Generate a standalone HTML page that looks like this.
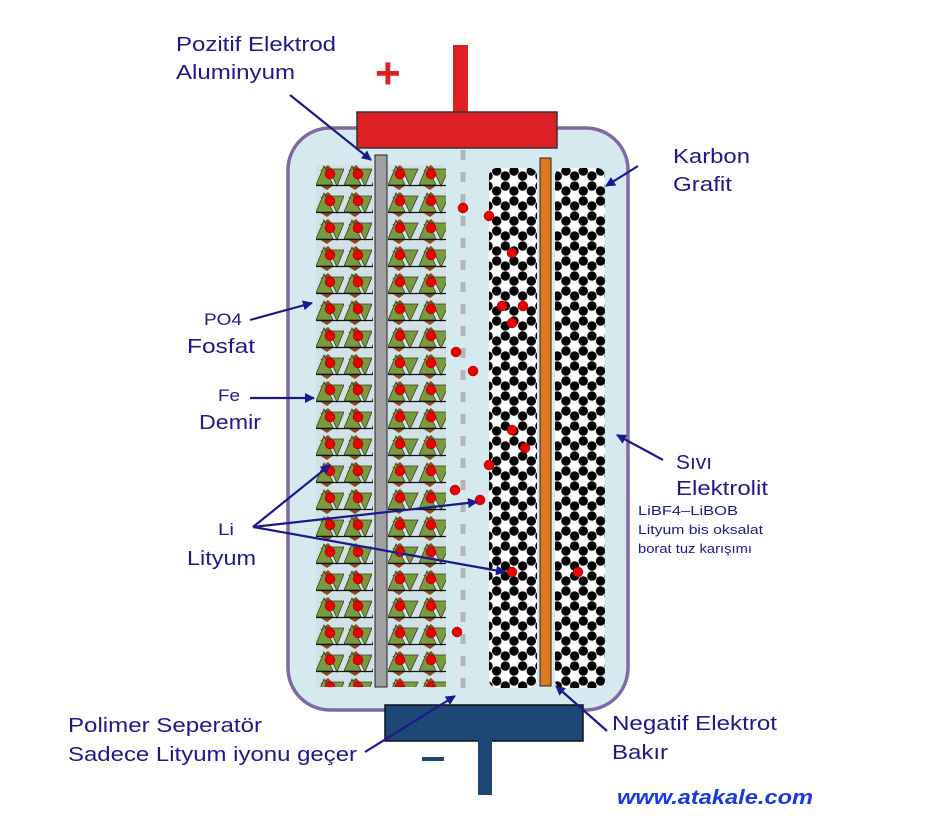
<!DOCTYPE html>
<html><head><meta charset="utf-8"><style>
body{margin:0;background:#fff}
svg{display:block}
text{font-family:"Liberation Sans",sans-serif;fill:#1a1a8c}
</style></head><body>
<svg width="945" height="831" viewBox="0 0 945 831" xmlns="http://www.w3.org/2000/svg">
<defs>
<pattern id="lfp" x="316" y="163" width="28" height="27" patternUnits="userSpaceOnUse">
<rect width="28" height="27" fill="#d0e2e8"/>
<polygon points="4,8 12,2 18,8" fill="#8b4a1c"/>
<polygon points="0,22 8,3 17,22" fill="#7a9a40" stroke="#33401a" stroke-width="0.8"/>
<polygon points="13,6 28,6 21,23" fill="#7a9a40" stroke="#33401a" stroke-width="0.8"/>
<polygon points="3,22 11,27 18,22" fill="#8b4a1c"/>
<line x1="0" y1="22.5" x2="28" y2="22.5" stroke="#111" stroke-width="1.2"/>
<circle cx="14" cy="11" r="5" fill="#e00" stroke="#800" stroke-width="0.5"/>
</pattern>
<pattern id="lfp2" x="388" y="163" width="31" height="27" patternUnits="userSpaceOnUse">
<rect width="31" height="27" fill="#d0e2e8"/>
<polygon points="4,8 12,2 18,8" fill="#8b4a1c"/>
<polygon points="0,22 8,3 17,22" fill="#7a9a40" stroke="#33401a" stroke-width="0.8"/>
<polygon points="14,6 30,6 22,23" fill="#7a9a40" stroke="#33401a" stroke-width="0.8"/>
<polygon points="3,22 11,27 18,22" fill="#8b4a1c"/>
<line x1="0" y1="22.5" x2="31" y2="22.5" stroke="#111" stroke-width="1.2"/>
<circle cx="12" cy="11" r="5" fill="#e00" stroke="#800" stroke-width="0.5"/>
</pattern>
<pattern id="gr" x="488" y="166" width="17.32" height="30" patternUnits="userSpaceOnUse">
<rect width="17.32" height="30" fill="#fff"/>
<g fill="#000">
<circle cx="0" cy="10" r="4.7"/><circle cx="17.32" cy="10" r="4.7"/>
<circle cx="0" cy="20" r="4.7"/><circle cx="17.32" cy="20" r="4.7"/>
<circle cx="8.66" cy="5" r="4.7"/><circle cx="8.66" cy="25" r="4.7"/>
<circle cx="8.66" cy="-5" r="4.7"/><circle cx="8.66" cy="35" r="4.7"/>
</g>
</pattern>
<marker id="ar" markerWidth="10" markerHeight="10" refX="9" refY="5" orient="auto" markerUnits="userSpaceOnUse">
<path d="M0,0 L10,5 L0,10 Z" fill="#1a1a8c"/>
</marker>
</defs>

<rect x="288" y="128" width="340" height="582" rx="42" fill="#d6e9ef" stroke="#7d6aa3" stroke-width="3.5"/>

<rect x="453" y="45" width="15" height="70" fill="#dd1f26"/>
<rect x="357" y="112" width="200" height="36" fill="#dd1f26" stroke="#333" stroke-width="1.5"/>
<text x="375" y="88" style="font-size:44px;fill:#dd1f26;font-weight:bold">+</text>

<rect x="385" y="705" width="198" height="36" fill="#1e4677" stroke="#111" stroke-width="1.5"/>
<rect x="478" y="740" width="14" height="55" fill="#1e4677"/>
<rect x="422" y="757" width="22" height="4" fill="#1e4677"/>

<rect x="316" y="165" width="57" height="522" fill="url(#lfp)"/>
<rect x="388" y="165" width="58" height="522" fill="url(#lfp2)"/>
<rect x="375" y="155" width="12" height="532" fill="#a0a0a0" stroke="#222" stroke-width="1"/>

<line x1="463" y1="150" x2="463" y2="695" stroke="#b5b5b5" stroke-width="5" stroke-dasharray="10,12"/>

<rect x="489" y="168" width="48" height="520" rx="8" fill="url(#gr)"/>
<rect x="555" y="168" width="50" height="520" rx="8" fill="url(#gr)"/>
<rect x="540" y="158" width="11" height="528" fill="#e07820" stroke="#222" stroke-width="1"/>

<g fill="#e00" stroke="#800" stroke-width="0.5">
<circle cx="463" cy="208" r="5"/><circle cx="489" cy="216" r="5"/><circle cx="456" cy="352" r="5"/>
<circle cx="473" cy="371" r="5"/><circle cx="489" cy="465" r="5"/><circle cx="455" cy="490" r="5"/>
<circle cx="480" cy="500" r="5"/><circle cx="457" cy="632" r="5"/>
<circle cx="512" cy="253" r="5"/><circle cx="502" cy="306" r="5"/><circle cx="523" cy="306" r="5"/>
<circle cx="512" cy="323" r="5"/><circle cx="512" cy="430" r="5"/><circle cx="525" cy="448" r="5"/>
<circle cx="512" cy="572" r="5"/><circle cx="578" cy="572" r="5"/>
</g>

<g stroke="#1a1a8c" stroke-width="2.2" fill="none" marker-end="url(#ar)">
<line x1="290" y1="95" x2="371" y2="160"/>
<line x1="638" y1="166" x2="606" y2="186"/>
<line x1="250" y1="320" x2="312" y2="303"/>
<line x1="250" y1="398" x2="314" y2="398"/>
<line x1="663" y1="460" x2="617" y2="435"/>
<line x1="253" y1="527" x2="330" y2="465"/>
<line x1="253" y1="527" x2="477" y2="502"/>
<line x1="253" y1="527" x2="505" y2="572"/>
<line x1="365" y1="752" x2="455" y2="696"/>
<line x1="607" y1="731" x2="556" y2="686"/>
</g>

<g style="font-size:20px" lengthAdjust="spacingAndGlyphs">
<text x="176" y="51" textLength="160" lengthAdjust="spacingAndGlyphs">Pozitif Elektrod</text>
<text x="176" y="79" textLength="119" lengthAdjust="spacingAndGlyphs">Aluminyum</text>
<text x="673" y="163" textLength="77" lengthAdjust="spacingAndGlyphs">Karbon</text>
<text x="673" y="191" textLength="59" lengthAdjust="spacingAndGlyphs">Grafit</text>
<text x="204" y="325" style="font-size:17px" textLength="38" lengthAdjust="spacingAndGlyphs">PO4</text>
<text x="187" y="353" textLength="68" lengthAdjust="spacingAndGlyphs">Fosfat</text>
<text x="218" y="401" style="font-size:17px" textLength="22" lengthAdjust="spacingAndGlyphs">Fe</text>
<text x="199" y="429" textLength="62" lengthAdjust="spacingAndGlyphs">Demir</text>
<text x="676" y="469" textLength="36" lengthAdjust="spacingAndGlyphs">Sıvı</text>
<text x="676" y="495" textLength="92" lengthAdjust="spacingAndGlyphs">Elektrolit</text>
<text x="218" y="535" style="font-size:17px" textLength="16" lengthAdjust="spacingAndGlyphs">Li</text>
<text x="187" y="565" textLength="69" lengthAdjust="spacingAndGlyphs">Lityum</text>
<text x="68" y="732" textLength="194" lengthAdjust="spacingAndGlyphs">Polimer Seperatör</text>
<text x="68" y="761" textLength="289" lengthAdjust="spacingAndGlyphs">Sadece Lityum iyonu geçer</text>
<text x="612" y="730" textLength="165" lengthAdjust="spacingAndGlyphs">Negatif Elektrot</text>
<text x="612" y="759" textLength="56" lengthAdjust="spacingAndGlyphs">Bakır</text>
</g>
<g style="font-size:13px">
<text x="638" y="515" textLength="100" lengthAdjust="spacingAndGlyphs">LiBF4–LiBOB</text>
<text x="638" y="534" textLength="125" lengthAdjust="spacingAndGlyphs">Lityum bis oksalat</text>
<text x="638" y="553" textLength="114" lengthAdjust="spacingAndGlyphs">borat tuz karışımı</text>
</g>
<text x="617" y="804" style="font-size:20px;font-weight:bold;font-style:italic;fill:#1a3ae0" textLength="196" lengthAdjust="spacingAndGlyphs">www.atakale.com</text>
</svg>
</body></html>
